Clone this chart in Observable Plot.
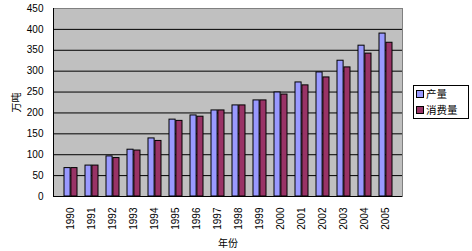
<!DOCTYPE html>
<html>
<head>
<meta charset="utf-8">
<script src="https://cdn.jsdelivr.net/npm/d3@7"></script>
<script src="https://cdn.jsdelivr.net/npm/@observablehq/plot@0.6"></script>
<style>
  html, body { margin: 0; padding: 0; background: #fff; }
  #wrap { position: relative; width: 472px; height: 251px; font-family: "Liberation Sans", "Noto Sans CJK SC", sans-serif; }
  #legend { position: absolute; left: 413px; top: 85px; width: 56px; height: 34px; border: 1px solid #000; background: #fff; font-family: "Noto Sans CJK SC", sans-serif; font-size: 10.5px; box-sizing: border-box; padding-top: 0px; }
  .item { display: flex; align-items: center; height: 16px; line-height: 16px; padding-left: 2px; white-space: nowrap; }
  .sw { width: 6px; height: 6px; border: 1px solid #000; margin-right: 2px; flex: none; }
</style>
</head>
<body>
<div id="wrap"></div>
<script>
const years = [1990, 1991, 1992, 1993, 1994, 1995, 1996, 1997, 1998, 1999, 2000, 2001, 2002, 2003, 2004, 2005];
const production = [68, 74, 96, 112, 139, 184, 194, 206, 218, 230, 249, 273, 297, 325, 361, 390];
const consumption = [68, 74, 92, 110, 133, 181, 191, 206, 218, 230, 244, 266, 285, 309, 342, 368];
const seriesNames = ["产量", "消费量"];
const seriesColors = ["#9999ff", "#993366"];
const yTicks = [0, 50, 100, 150, 200, 250, 300, 350, 400, 450];

const data = years.map((y, i) => ({year: y, prod: production[i], cons: consumption[i]}));

const chart = Plot.plot({
  width: 472,
  height: 251,
  marginLeft: 53,
  marginTop: 8,
  marginRight: 70,
  marginBottom: 55,
  style: {fontFamily: "Liberation Sans, Noto Sans CJK SC, sans-serif", fontSize: "10px", background: "transparent", color: "#000"},
  x: {domain: years, paddingInner: 0, paddingOuter: 0, axis: null},
  y: {domain: [0, 450], axis: null},
  marks: [
    Plot.frame({fill: "#c0c0c0", stroke: "#808080"}),
    Plot.gridY(yTicks.filter(t => t > 0 && t < 450), {stroke: "#000", strokeOpacity: 1}),
    Plot.barY(data, {x: "year", y: "prod", fill: seriesColors[0], stroke: "#000", strokeWidth: 1, insetLeft: 4, insetRight: 10.9}),
    Plot.barY(data, {x: "year", y: "cons", fill: seriesColors[1], stroke: "#000", strokeWidth: 1, insetLeft: 10.9, insetRight: 4}),
    Plot.ruleY([0], {stroke: "#000"}),
    Plot.frame({anchor: "left", stroke: "#000"}),
    Plot.axisY({ticks: yTicks, tickSize: 0, tickPadding: 10, label: "万吨", labelArrow: "none", labelAnchor: "center", labelOffset: 41, fontSize: 10}),
    Plot.axisX({tickSize: 0, tickRotate: -90, tickPadding: 11, tickFormat: d => String(d), label: "年份", labelArrow: "none", labelAnchor: "center", labelOffset: 50, fontSize: 10})
  ]
});
const wrap = document.getElementById("wrap");
wrap.appendChild(chart);

const legend = document.createElement("div");
legend.id = "legend";
seriesNames.forEach((name, i) => {
  const item = document.createElement("div");
  item.className = "item";
  const sw = document.createElement("div");
  sw.className = "sw";
  sw.style.background = seriesColors[i];
  const t = document.createElement("span");
  t.textContent = name;
  item.appendChild(sw);
  item.appendChild(t);
  legend.appendChild(item);
});
wrap.appendChild(legend);
</script>
</body>
</html>
